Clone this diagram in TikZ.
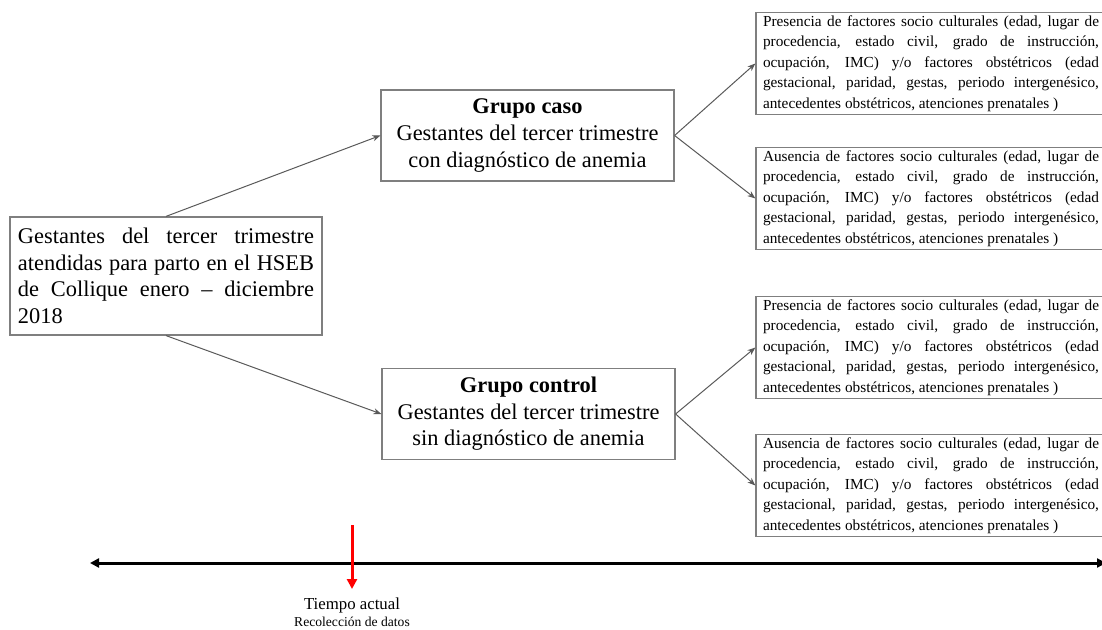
\documentclass[tikz,border=0pt]{standalone}
\usepackage{fontspec}
\setmainfont{Liberation Serif}
\usetikzlibrary{arrows.meta}
\definecolor{boxgray}{HTML}{7F7F7F}
\definecolor{linkgray}{HTML}{595959}
\definecolor{nowred}{HTML}{FF0000}
\newcommand{\factortext}[1]{#1 de factores socio culturales (edad, lugar de\linebreak procedencia, estado civil, grado de instrucción,\linebreak ocupación, IMC) y/o factores obstétricos (edad\linebreak gestacional, paridad, gestas, periodo intergenésico,\linebreak antecedentes obstétricos, atenciones prenatales )}

\begin{document}
\begin{tikzpicture}[x=0.5pt,y=-0.5pt,
  mainbox/.style={draw=boxgray,line width=0.6pt,inner sep=4pt,font=\fontsize{11.2}{13.3}\selectfont},
  groupbox/.style={mainbox,align=center,minimum width=146.5pt,minimum height=45.5pt},
  factorbox/.style={draw=boxgray,line width=0.6pt,inner xsep=3.5pt,inner ysep=1.5pt,text width=168pt,minimum height=50pt,align=justify,font=\fontsize{7.65}{10.2}\selectfont},
  link/.style={draw=linkgray,line width=0.5pt,-{Stealth[length=4pt,width=3pt]}},
  timeline/.style={line width=1.5pt,{Triangle[length=4.5pt,width=4.5pt]}-{Triangle[length=4.5pt,width=4.5pt]}}]
  \useasboundingbox (0,0) rectangle (1102,630);
  % population
  \node[mainbox,text width=148pt,minimum height=59pt,align=justify] (pop) at (166,276)
    {Gestantes del tercer trimestre\linebreak atendidas para parto en el HSEB\linebreak de Collique enero -- diciembre\linebreak 2018};
  % groups
  \node[groupbox] (caso) at (527.5,135.5)
    {\textbf{Grupo caso}\\Gestantes del tercer trimestre\\con diagnóstico de anemia};
  \node[groupbox] (control) at (528.5,414)
    {\textbf{Grupo control}\\Gestantes del tercer trimestre\\sin diagnóstico de anemia};
  % factors
  \node[factorbox] (casoyes) at (931,63.5) {\factortext{Presencia}};
  \node[factorbox] (casono) at (931,198.5) {\factortext{Ausencia}};
  \node[factorbox] (controlyes) at (931,347.5) {\factortext{Presencia}};
  \node[factorbox] (controlno) at (931,485.5) {\factortext{Ausencia}};
  \draw[link] (pop.north) -- (caso.west);
  \draw[link] (pop.south) -- (control.west);
  \draw[link] (caso.east) -- (casoyes.west);
  \draw[link] (caso.east) -- (casono.west);
  \draw[link] (control.east) -- (controlyes.west);
  \draw[link] (control.east) -- (controlno.west);
  % time axis
  \coordinate (pastend) at (90,563);
  \coordinate (futureend) at (1106,563);
  \draw[timeline] (pastend) -- (futureend);
  \coordinate (nowtop) at (352,525);
  \coordinate (nowtip) at (352,589);
  \draw[nowred,line width=1.5pt,-{Triangle[length=5pt,width=5pt]}] (nowtop) -- (nowtip);
  \node[font=\fontsize{8.4}{10}\selectfont] (now) at (352,605) {Tiempo actual};
  \node[font=\fontsize{6.8}{8}\selectfont] (collect) at (352,622) {Recolección de datos};
\end{tikzpicture}
\end{document}
